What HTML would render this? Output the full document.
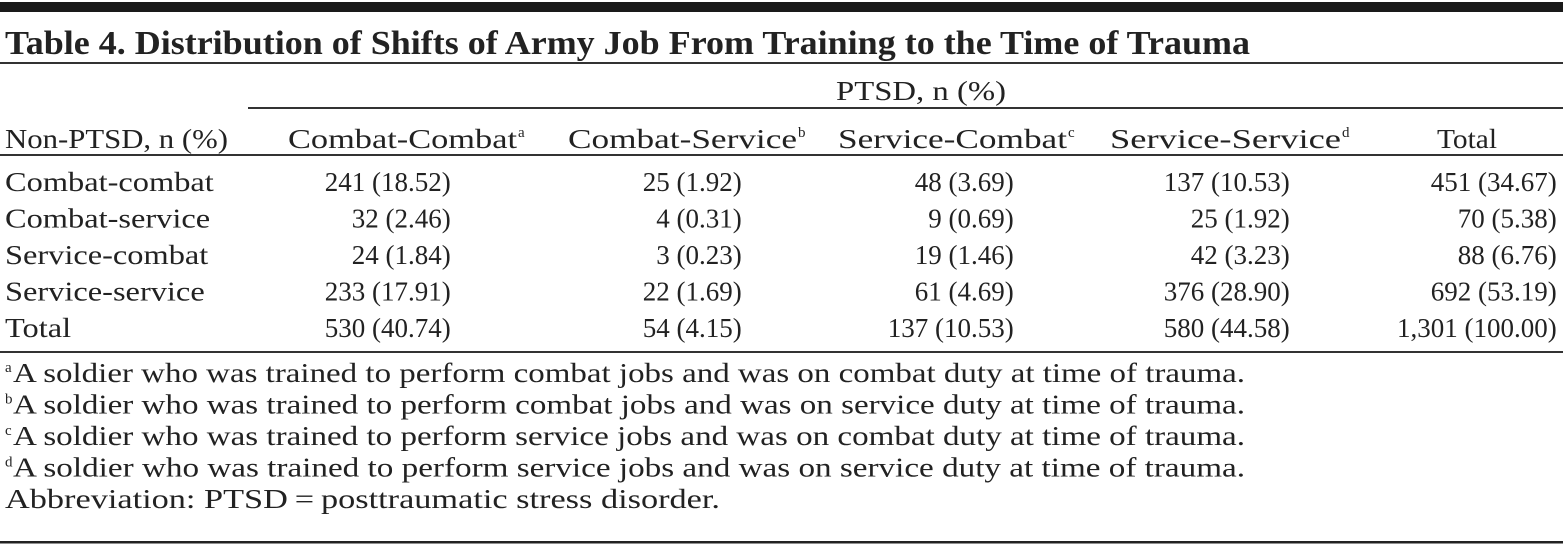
<!DOCTYPE html>
<html><head><meta charset="utf-8"><style>
html,body{margin:0;padding:0;background:#fff;}
svg{display:block;}
text{font-family:"Liberation Serif",serif;fill:#222;font-size:27px;}
.t{font-weight:bold;font-size:34px;}
.h{font-size:27px;}
.s{font-size:15px;}
</style></head><body>
<svg width="1563" height="548" viewBox="0 0 1563 548">
<rect x="0" y="2" width="1563" height="10" fill="#1a1a1a"/>
<text class="t" x="5" y="54" textLength="1245" lengthAdjust="spacingAndGlyphs">Table 4. Distribution of Shifts of Army Job From Training to the Time of Trauma</text>
<rect x="0" y="62" width="1563" height="2" fill="#333"/>
<text class="h" x="836" y="100" textLength="170" lengthAdjust="spacingAndGlyphs">PTSD, n (%)</text>
<rect x="248" y="107" width="1315" height="2" fill="#333"/>
<text class="h" x="5" y="148" textLength="223" lengthAdjust="spacingAndGlyphs">Non-PTSD, n (%)</text>
<text class="h" x="288" y="148" textLength="229" lengthAdjust="spacingAndGlyphs">Combat-Combat</text>
<text class="s" x="518" y="137">a</text>
<text class="h" x="568" y="148" textLength="229" lengthAdjust="spacingAndGlyphs">Combat-Service</text>
<text class="s" x="798" y="137">b</text>
<text class="h" x="838" y="148" textLength="229" lengthAdjust="spacingAndGlyphs">Service-Combat</text>
<text class="s" x="1068" y="137">c</text>
<text class="h" x="1110" y="148" textLength="231" lengthAdjust="spacingAndGlyphs">Service-Service</text>
<text class="s" x="1342" y="137">d</text>
<text class="h" x="1437" y="148" textLength="60" lengthAdjust="spacingAndGlyphs">Total</text>
<rect x="0" y="154" width="1563" height="2" fill="#333"/>
<g id="body"></g>
<rect x="0" y="351" width="1563" height="2" fill="#333"/>
<g id="notes"></g>
<rect x="0" y="541" width="1563" height="2.5" fill="#222"/>
</svg>
<script>
const rowLabels = ["Combat-combat","Combat-service","Service-combat","Service-service","Total"];
const cells = [
 ["241 (18.52)","25 (1.92)","48 (3.69)","137 (10.53)","451 (34.67)"],
 ["32 (2.46)","4 (0.31)","9 (0.69)","25 (1.92)","70 (5.38)"],
 ["24 (1.84)","3 (0.23)","19 (1.46)","42 (3.23)","88 (6.76)"],
 ["233 (17.91)","22 (1.69)","61 (4.69)","376 (28.90)","692 (53.19)"],
 ["530 (40.74)","54 (4.15)","137 (10.53)","580 (44.58)","1,301 (100.00)"]
];
const notes = [
 ["a","A soldier who was trained to perform combat jobs and was on combat duty at time of trauma."],
 ["b","A soldier who was trained to perform combat jobs and was on service duty at time of trauma."],
 ["c","A soldier who was trained to perform service jobs and was on combat duty at time of trauma."],
 ["d","A soldier who was trained to perform service jobs and was on service duty at time of trauma."],
 ["","Abbreviation: PTSD\u2009=\u2009posttraumatic stress disorder."]
];
const NS="http://www.w3.org/2000/svg";
const decX=[408,699,971,1247,1514];
const body=document.getElementById('body');
function mk(tag,attrs,txt){const e=document.createElementNS(NS,tag);for(const k in attrs)e.setAttribute(k,attrs[k]);if(txt!=null)e.textContent=txt;return e;}
rowLabels.forEach((lab,i)=>{
 const y=191+i*36.5;
 const t=mk('text',{x:5,y:y,class:'h'},lab);
 
 
 body.appendChild(t);
 const w=t.getComputedTextLength();
 t.setAttribute('textLength',(w*1.2).toFixed(1));
 t.setAttribute('lengthAdjust','spacingAndGlyphs');
 cells[i].forEach((v,j)=>{
  const k=v.lastIndexOf('.');
  const a=mk('text',{x:decX[j],y:y,'text-anchor':'end'},v.slice(0,k));
  
  
  const b=mk('text',{x:decX[j],y:y},v.slice(k));
  
  
  body.appendChild(a);body.appendChild(b);
 });
});
const ng=document.getElementById('notes');
notes.forEach((n,i)=>{
 const y=382+i*31.5;
 if(n[0]){
  const s=mk('text',{x:5,y:y-10,class:'s'},n[0]);
  
  
  ng.appendChild(s);
 }
 const t=mk('text',{x:n[0]?13:5,y:y,class:'h'},n[1]);
 
 
 t.setAttribute('textLength',n[0]?1232:715);
 t.setAttribute('lengthAdjust','spacingAndGlyphs');
 ng.appendChild(t);
});
</script>
</body></html>
